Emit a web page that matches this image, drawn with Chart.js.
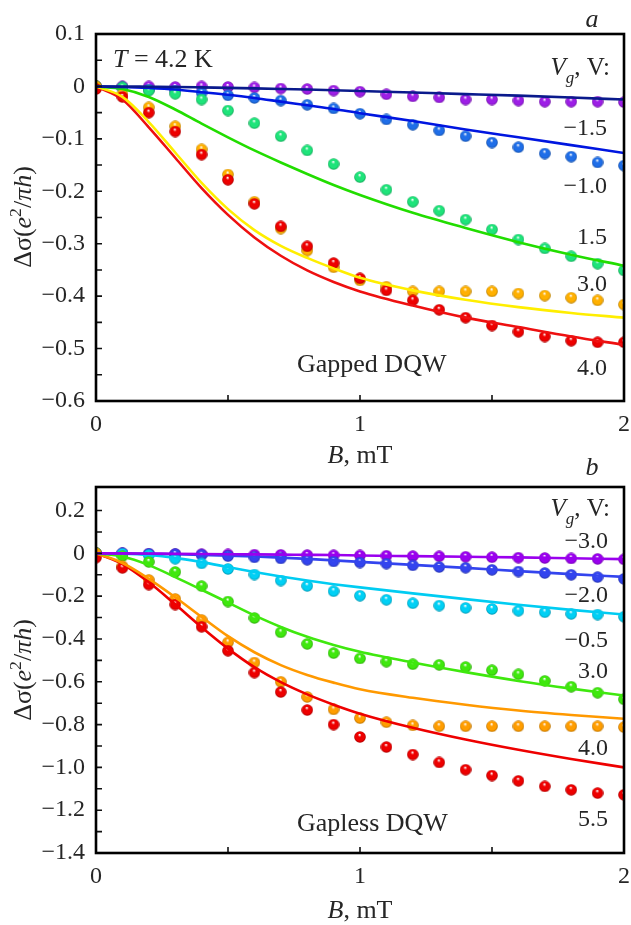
<!DOCTYPE html>
<html>
<head>
<meta charset="utf-8">
<script src="https://cdn.jsdelivr.net/npm/chart.js@4.4.0/dist/chart.umd.min.js"></script>
<style>
  body { margin: 0; background: #fff; }
  #wrap { position: relative; width: 631px; height: 925px; overflow: hidden; }
  canvas { position: absolute; left: 0; }
  #panelA { top: 0; }
  #panelB { top: 440px; }
</style>
</head>
<body>
<div id="wrap">
  <canvas id="panelA" width="631" height="480"></canvas>
  <canvas id="panelB" width="631" height="485"></canvas>
</div>
<script>
// champ B (mT) des points mesurés et des courbes calculées
const fieldB = [0, 0.1, 0.2, 0.3, 0.4, 0.5, 0.6, 0.7, 0.8, 0.9, 1.0, 1.1, 1.2, 1.3, 1.4, 1.5, 1.6, 1.7, 1.8, 1.9, 2.0];
const fitB = [0, 0.1, 0.2, 0.3, 0.4, 0.5, 0.6, 0.7, 0.8, 0.9, 1.0, 1.2, 1.4, 1.6, 1.8, 2.0];

// graduations
const xTicks = [0, 0.5, 1, 1.5, 2];
const yTicksA = [0.1, 0.05, 0, -0.05, -0.1, -0.15, -0.2, -0.25, -0.3, -0.35, -0.4, -0.45, -0.5, -0.55, -0.6];
const yTicksB = [0.2, 0.1, 0, -0.1, -0.2, -0.3, -0.4, -0.5, -0.6, -0.7, -0.8, -0.9, -1.0, -1.1, -1.2, -1.3, -1.4];

// panneau a : Gapped DQW, Vg = -1.5, -1.0, 1.5, 3.0, 4.0 V
const gatesA = ['−1.5', '−1.0', '1.5', '3.0', '4.0'];
const dotsAm15 = [0, 0, 0, -0.001, 0, -0.001, -0.002, -0.004, -0.005, -0.008, -0.01, -0.015, -0.019, -0.021, -0.025, -0.025, -0.027, -0.029, -0.029, -0.029, -0.03];
const dotsAm10 = [0, -0.002, -0.006, -0.008, -0.012, -0.017, -0.022, -0.027, -0.035, -0.042, -0.052, -0.063, -0.073, -0.084, -0.095, -0.107, -0.116, -0.128, -0.134, -0.145, -0.151];
const dotsA15 = [0, -0.002, -0.008, -0.014, -0.025, -0.046, -0.07, -0.095, -0.122, -0.148, -0.173, -0.197, -0.22, -0.237, -0.254, -0.273, -0.292, -0.309, -0.324, -0.338, -0.351];
const dotsA30 = [0, -0.015, -0.04, -0.076, -0.12, -0.168, -0.22, -0.271, -0.313, -0.345, -0.37, -0.382, -0.391, -0.391, -0.391, -0.391, -0.395, -0.399, -0.403, -0.408, -0.416];
const dotsA40 = [-0.005, -0.02, -0.05, -0.086, -0.13, -0.178, -0.224, -0.267, -0.305, -0.337, -0.366, -0.389, -0.408, -0.426, -0.441, -0.456, -0.468, -0.477, -0.485, -0.488, -0.488];
const fitAm15 = [0, 0, -0.0005, -0.001, -0.0018, -0.0027, -0.0037, -0.0048, -0.006, -0.0074, -0.0088, -0.0117, -0.0146, -0.0176, -0.0211, -0.025];
const fitAm10 = [0, -0.001, -0.003, -0.006, -0.011, -0.016, -0.022, -0.029, -0.036, -0.043, -0.051, -0.066, -0.082, -0.097, -0.112, -0.127];
const fitA15 = [0, -0.005, -0.02, -0.044, -0.071, -0.097, -0.122, -0.145, -0.167, -0.188, -0.207, -0.241, -0.27, -0.297, -0.321, -0.342];
const fitA30 = [0, -0.02, -0.068, -0.126, -0.184, -0.234, -0.274, -0.304, -0.327, -0.347, -0.365, -0.389, -0.407, -0.421, -0.432, -0.441];
const fitA40 = [0, -0.025, -0.078, -0.136, -0.194, -0.245, -0.288, -0.323, -0.351, -0.373, -0.391, -0.418, -0.441, -0.459, -0.477, -0.493];

// panneau b : Gapless DQW, Vg = -3.0, -2.0, -0.5, 3.0, 4.0, 5.5 V
const gatesB = ['−3.0', '−2.0', '−0.5', '3.0', '4.0', '5.5'];
const dotsBm30 = [0, 0, -0.002, -0.003, -0.004, -0.005, -0.006, -0.007, -0.008, -0.009, -0.01, -0.011, -0.013, -0.014, -0.016, -0.018, -0.02, -0.022, -0.024, -0.026, -0.028];
const dotsBm20 = [0, 0, -0.002, -0.004, -0.007, -0.013, -0.019, -0.024, -0.03, -0.038, -0.043, -0.048, -0.056, -0.064, -0.067, -0.077, -0.085, -0.092, -0.1, -0.111, -0.119];
const dotsBm05 = [0, -0.002, -0.008, -0.025, -0.047, -0.073, -0.099, -0.127, -0.152, -0.177, -0.198, -0.217, -0.233, -0.244, -0.255, -0.26, -0.268, -0.275, -0.283, -0.286, -0.296];
const dotsB30 = [0, -0.013, -0.04, -0.087, -0.153, -0.225, -0.302, -0.369, -0.423, -0.466, -0.491, -0.506, -0.518, -0.521, -0.531, -0.546, -0.565, -0.596, -0.623, -0.651, -0.682];
const dotsB40 = [0, -0.06, -0.124, -0.213, -0.311, -0.416, -0.51, -0.6, -0.671, -0.729, -0.77, -0.789, -0.804, -0.808, -0.808, -0.808, -0.808, -0.808, -0.808, -0.808, -0.812];
const dotsB55 = [-0.02, -0.068, -0.146, -0.239, -0.343, -0.455, -0.557, -0.648, -0.732, -0.8, -0.858, -0.905, -0.94, -0.977, -1.011, -1.038, -1.063, -1.089, -1.105, -1.12, -1.128];
const fitBm30 = [0, 0, -0.001, -0.002, -0.003, -0.004, -0.005, -0.006, -0.007, -0.008, -0.01, -0.013, -0.016, -0.019, -0.023, -0.027];
const fitBm20 = [0, -0.001, -0.002, -0.004, -0.007, -0.011, -0.015, -0.02, -0.026, -0.033, -0.04, -0.054, -0.068, -0.083, -0.097, -0.11];
const fitBm05 = [0, -0.002, -0.008, -0.021, -0.041, -0.064, -0.087, -0.108, -0.127, -0.144, -0.159, -0.187, -0.214, -0.24, -0.264, -0.286];
const fitB30 = [0, -0.015, -0.055, -0.111, -0.17, -0.23, -0.29, -0.344, -0.39, -0.428, -0.46, -0.51, -0.555, -0.596, -0.632, -0.664];
const fitB40 = [0, -0.045, -0.119, -0.205, -0.297, -0.387, -0.462, -0.522, -0.568, -0.604, -0.635, -0.675, -0.707, -0.734, -0.755, -0.773];
const fitB55 = [0, -0.05, -0.135, -0.238, -0.345, -0.445, -0.532, -0.602, -0.659, -0.707, -0.749, -0.815, -0.87, -0.918, -0.961, -1.0];

const SERIF = '"Liberation Serif", "Times New Roman", serif';
const INK = '#262626';

// assombrit une couleur hex
function shade(hex, f) {
    const n = parseInt(hex.slice(1), 16);
    const r = Math.round(((n >> 16) & 255) * f);
    const g = Math.round(((n >> 8) & 255) * f);
    const b = Math.round((n & 255) * f);
    return `rgb(${r},${g},${b})`;
}

// petite bille ombrée utilisée comme pointStyle
function makeBall(color) {
    const c = document.createElement('canvas');
    c.width = 12; c.height = 12;
    const g = c.getContext('2d');
    const grad = g.createRadialGradient(5.6, 3.6, 0.3, 6, 6, 5.8);
    grad.addColorStop(0, '#ffffff');
    grad.addColorStop(0.28, color);
    grad.addColorStop(0.75, color);
    grad.addColorStop(1, shade(color, 0.72));
    g.fillStyle = grad;
    g.beginPath();
    g.arc(6, 6, 5.8, 0, Math.PI * 2);
    g.fill();
    return c;
}

function pairs(xs, ys) {
    return xs.map((x, i) => ({ x: x, y: ys[i] }));
}

function dots(ys, color) {
    return {
        data: pairs(fieldB, ys),
        showLine: false,
        pointStyle: makeBall(color),
        pointRadius: 6,
        order: 1
    };
}

function curve(ys, color) {
    return {
        data: pairs(fitB, ys),
        showLine: true,
        borderColor: color,
        borderWidth: 2.6,
        pointRadius: 0,
        cubicInterpolationMode: 'monotone',
        order: 0
    };
}

// texte avec morceaux en italique / indice / exposant
function drawRich(ctx, parts, x, y, size, align) {
    let total = 0;
    const items = parts.map(p => {
        const s = (p.sub || p.sup) ? size * 0.68 : size;
        const font = (p.it ? 'italic ' : '') + s + 'px ' + SERIF;
        ctx.font = font;
        const w = ctx.measureText(p.t).width;
        total += w;
        return { t: p.t, font: font, w: w, dy: p.sub ? size * 0.3 : (p.sup ? -size * 0.4 : 0) };
    });
    let cx = align === 'right' ? x - total : (align === 'center' ? x - total / 2 : x);
    ctx.textAlign = 'left';
    ctx.textBaseline = 'alphabetic';
    items.forEach(it => {
        ctx.font = it.font;
        ctx.fillText(it.t, cx, y + it.dy);
        cx += it.w;
    });
}

const yTitle = [{ t: 'Δσ(' }, { t: 'e', it: true }, { t: '2', sup: true }, { t: '/' }, { t: 'π', it: true }, { t: 'h', it: true }, { t: ')' }];
const xTitle = [{ t: 'B', it: true }, { t: ', mT' }];
const vgTitle = [{ t: 'V', it: true }, { t: 'g', it: true, sub: true }, { t: ', V:' }];

// cadre, graduations vers l'intérieur et annotations
function decor(texts, titleY) {
    return {
        id: 'decor',
        afterDraw(chart) {
            const { ctx, chartArea: a, scales } = chart;
            ctx.save();
            ctx.strokeStyle = '#111';
            ctx.lineWidth = 1.6;
            ctx.beginPath();
            scales.y.ticks.forEach(t => {
                const y = scales.y.getPixelForValue(t.value);
                ctx.moveTo(a.left, y);
                ctx.lineTo(a.left + 6, y);
            });
            scales.x.ticks.forEach(t => {
                const x = scales.x.getPixelForValue(t.value);
                ctx.moveTo(x, a.bottom);
                ctx.lineTo(x, a.bottom - 6);
            });
            ctx.stroke();
            ctx.lineWidth = 2.6;
            ctx.strokeStyle = '#000';
            ctx.strokeRect(a.left, a.top, a.right - a.left, a.bottom - a.top);

            ctx.fillStyle = INK;
            texts.forEach(tx => drawRich(ctx, tx.parts, tx.x, tx.y, tx.size, tx.align));

            ctx.translate(31, titleY);
            ctx.rotate(-Math.PI / 2);
            drawRich(ctx, yTitle, 0, 0, 26, 'center');
            ctx.restore();
        }
    };
}

function tickLabel(step) {
    return function (value) {
        const k = value / step;
        if (Math.abs(k - Math.round(k)) > 1e-6) return '';
        if (Math.abs(value) < 1e-9) return '0';
        if (step >= 1) return String(value);
        return (value < 0 ? '−' : '') + Math.abs(value).toFixed(1);
    };
}

function makeChart(id, datasets, yMin, yMax, yTicks, yStep, padTop, xHeight, texts, titleY) {
    const ctx = document.getElementById(id).getContext('2d');
    return new Chart(ctx, {
        type: 'scatter',
        data: { datasets: datasets },
        options: {
            responsive: false,
            animation: false,
            devicePixelRatio: 1,
            events: [],
            layout: { padding: { top: padTop, right: 5, left: 0, bottom: 0 } },
            plugins: { legend: { display: false }, tooltip: { enabled: false } },
            scales: {
                x: {
                    type: 'linear',
                    min: 0,
                    max: 2,
                    afterBuildTicks: s => { s.ticks = xTicks.map(v => ({ value: v })); },
                    afterFit: s => { s.height = xHeight; s.paddingLeft = 0; s.paddingRight = 0; },
                    grid: { display: false, drawTicks: false },
                    border: { display: false },
                    ticks: { callback: tickLabel(1), autoSkip: false, maxRotation: 0, padding: 9, color: INK, font: { family: SERIF, size: 24 } }
                },
                y: {
                    type: 'linear',
                    min: yMin,
                    max: yMax,
                    afterBuildTicks: s => { s.ticks = yTicks.map(v => ({ value: v })); },
                    afterFit: s => { s.width = 96; s.paddingTop = 0; s.paddingBottom = 0; },
                    grid: { display: false, drawTicks: false },
                    border: { display: false },
                    ticks: { callback: tickLabel(yStep), autoSkip: false, padding: 11, color: INK, font: { family: SERIF, size: 24 } }
                }
            }
        },
        plugins: [decor(texts, titleY)]
    });
}

// panneau a
const textsA = [
    { parts: [{ t: 'T', it: true }, { t: ' = 4.2 K' }], x: 113, y: 67, size: 26, align: 'left' },
    { parts: [{ t: 'a', it: true }], x: 592, y: 27, size: 26, align: 'center' },
    { parts: vgTitle, x: 610, y: 75, size: 25, align: 'right' },
    { parts: [{ t: gatesA[0] }], x: 607, y: 135, size: 24, align: 'right' },
    { parts: [{ t: gatesA[1] }], x: 607, y: 193, size: 24, align: 'right' },
    { parts: [{ t: gatesA[2] }], x: 607, y: 244, size: 24, align: 'right' },
    { parts: [{ t: gatesA[3] }], x: 607, y: 291, size: 24, align: 'right' },
    { parts: [{ t: gatesA[4] }], x: 607, y: 375, size: 24, align: 'right' },
    { parts: [{ t: 'Gapped DQW' }], x: 297, y: 372, size: 26, align: 'left' },
    { parts: xTitle, x: 360, y: 463, size: 26, align: 'center' }
];

makeChart('panelA', [
    curve(fitAm15, '#0a1a8c'),
    curve(fitAm10, '#0016e0'),
    curve(fitA15, '#22dd00'),
    curve(fitA30, '#ffee00'),
    curve(fitA40, '#ee1010'),
    dots(dotsA40, '#ee0000'),
    dots(dotsA30, '#ffb000'),
    dots(dotsA15, '#1ee47a'),
    dots(dotsAm10, '#1f6ee8'),
    dots(dotsAm15, '#9d1ee6')
], -0.6, 0.1, yTicksA, 0.1, 34, 79, textsA, 217);

// panneau b (coordonnées du canevas décalées de 440 px)
const textsB = [
    { parts: [{ t: 'b', it: true }], x: 592, y: 35, size: 26, align: 'center' },
    { parts: vgTitle, x: 610, y: 76, size: 25, align: 'right' },
    { parts: [{ t: gatesB[0] }], x: 608, y: 108, size: 24, align: 'right' },
    { parts: [{ t: gatesB[1] }], x: 608, y: 162, size: 24, align: 'right' },
    { parts: [{ t: gatesB[2] }], x: 608, y: 207, size: 24, align: 'right' },
    { parts: [{ t: gatesB[3] }], x: 608, y: 238, size: 24, align: 'right' },
    { parts: [{ t: gatesB[4] }], x: 608, y: 315, size: 24, align: 'right' },
    { parts: [{ t: gatesB[5] }], x: 608, y: 386, size: 24, align: 'right' },
    { parts: [{ t: 'Gapless DQW' }], x: 297, y: 391, size: 26, align: 'left' },
    { parts: xTitle, x: 360, y: 478, size: 26, align: 'center' }
];

makeChart('panelB', [
    curve(fitBm30, '#9a00ee'),
    curve(fitBm20, '#3344ee'),
    curve(fitBm05, '#00ccf2'),
    curve(fitB30, '#3fe80e'),
    curve(fitB40, '#ff9900'),
    curve(fitB55, '#ee0000'),
    dots(dotsB55, '#ee0000'),
    dots(dotsB40, '#ff9d00'),
    dots(dotsB30, '#3fe80e'),
    dots(dotsBm05, '#00d0f5'),
    dots(dotsBm20, '#3344ee'),
    dots(dotsBm30, '#9a00ee')
], -1.4, 0.31, yTicksB, 0.2, 47, 72, textsB, 230);
</script>
</body>
</html>
